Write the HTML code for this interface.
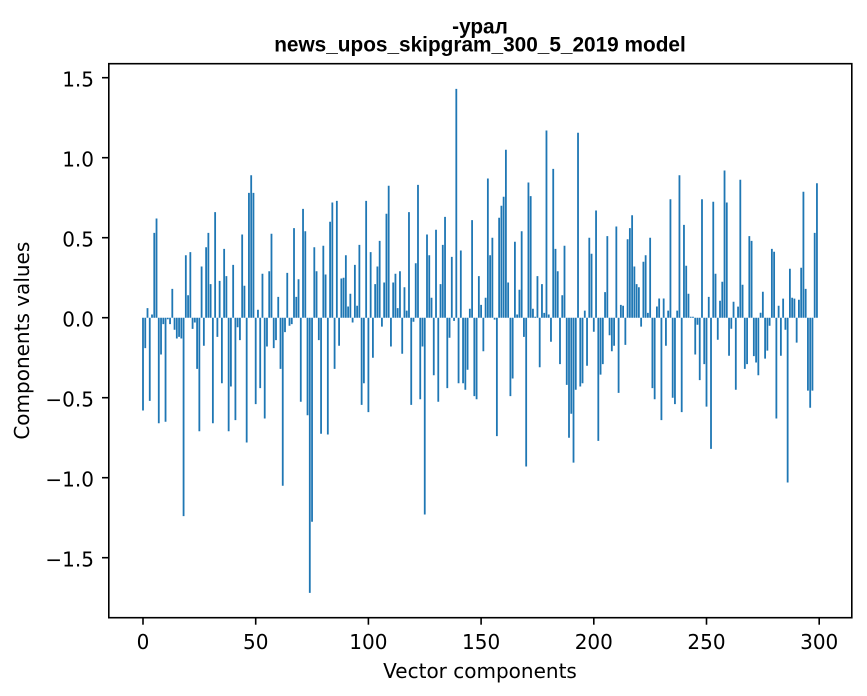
<!DOCTYPE html>
<html>
<head>
<meta charset="utf-8">
<style>
html,body{margin:0;padding:0;background:#fff;}
svg{display:block;}
.tk{font-family:"DejaVu Sans","Liberation Sans",sans-serif;font-size:20px;fill:#000;}
.tt{font-family:"Liberation Sans","DejaVu Sans",sans-serif;font-size:20.8px;font-weight:bold;fill:#000;}
</style>
</head>
<body>
<svg width="867" height="696" viewBox="0 0 867 696" xmlns="http://www.w3.org/2000/svg">
<rect x="0" y="0" width="867" height="696" fill="#fff"/>
<text class="tt" x="480" y="33.5" text-anchor="middle">-урал</text>
<text class="tt" x="480" y="51.5" text-anchor="middle">news_upos_skipgram_300_5_2019 model</text>
<g transform="translate(143,317.7) scale(2.254,-160)">
<path fill="#1f77b4" d="M-.4 0h.8v-.58h-.8z
M.6 0h.8v-.19h-.8z
M1.6 0h.8v.06h-.8z
M2.6 0h.8v-.52h-.8z
M3.6 0h.8v.02h-.8z
M4.6 0h.8v.53h-.8z
M5.6 0h.8v.62h-.8z
M6.6 0h.8v-.66h-.8z
M7.6 0h.8v-.23h-.8z
M8.6 0h.8v-.04h-.8z
M9.6 0h.8v-.65h-.8z
M10.6 0h.8v-.01h-.8z
M11.6 0h.8v-.04h-.8z
M12.6 0h.8v.18h-.8z
M13.6 0h.8v-.075h-.8z
M14.6 0h.8v-.13h-.8z
M15.6 0h.8v-.12h-.8z
M16.6 0h.8v-.13h-.8z
M17.6 0h.8v-1.24h-.8z
M18.6 0h.8v.39h-.8z
M19.6 0h.8v.14h-.8z
M20.6 0h.8v.41h-.8z
M21.6 0h.8v-.07h-.8z
M22.6 0h.8v-.03h-.8z
M23.6 0h.8v-.32h-.8z
M24.6 0h.8v-.71h-.8z
M25.6 0h.8v.32h-.8z
M26.6 0h.8v-.175h-.8z
M27.6 0h.8v.44h-.8z
M28.6 0h.8v.53h-.8z
M29.6 0h.8v.21h-.8z
M30.6 0h.8v-.66h-.8z
M31.6 0h.8v.66h-.8z
M32.6 0h.8v-.12h-.8z
M33.6 0h.8v.23h-.8z
M34.6 0h.8v-.41h-.8z
M35.6 0h.8v.43h-.8z
M36.6 0h.8v.26h-.8z
M37.6 0h.8v-.71h-.8z
M38.6 0h.8v-.43h-.8z
M39.6 0h.8v.33h-.8z
M40.6 0h.8v-.64h-.8z
M41.6 0h.8v-.06h-.8z
M42.6 0h.8v-.14h-.8z
M43.6 0h.8v.52h-.8z
M44.6 0h.8v.2h-.8z
M45.6 0h.8v-.78h-.8z
M46.6 0h.8v.78h-.8z
M47.6 0h.8v.89h-.8z
M48.6 0h.8v.78h-.8z
M49.6 0h.8v-.54h-.8z
M50.6 0h.8v.05h-.8z
M51.6 0h.8v-.44h-.8z
M52.6 0h.8v.275h-.8z
M53.6 0h.8v-.63h-.8z
M54.6 0h.8v-.18h-.8z
M55.6 0h.8v.29h-.8z
M56.6 0h.8v.525h-.8z
M57.6 0h.8v-.19h-.8z
M58.6 0h.8v-.14h-.8z
M59.6 0h.8v.13h-.8z
M60.6 0h.8v-.32h-.8z
M61.6 0h.8v-1.05h-.8z
M62.6 0h.8v-.09h-.8z
M63.6 0h.8v.28h-.8z
M64.6 0h.8v-.05h-.8z
M65.6 0h.8v-.04h-.8z
M66.6 0h.8v.56h-.8z
M67.6 0h.8v.13h-.8z
M68.6 0h.8v.24h-.8z
M69.6 0h.8v-.525h-.8z
M70.6 0h.8v.68h-.8z
M71.6 0h.8v.54h-.8z
M72.6 0h.8v-.61h-.8z
M73.6 0h.8v-1.72h-.8z
M74.6 0h.8v-1.275h-.8z
M75.6 0h.8v.44h-.8z
M76.6 0h.8v.29h-.8z
M77.6 0h.8v-.14h-.8z
M78.6 0h.8v-.725h-.8z
M79.6 0h.8v.45h-.8z
M80.6 0h.8v.27h-.8z
M81.6 0h.8v-.73h-.8z
M82.6 0h.8v.6h-.8z
M83.6 0h.8v.72h-.8z
M84.6 0h.8v-.32h-.8z
M85.6 0h.8v.73h-.8z
M86.6 0h.8v-.175h-.8z
M87.6 0h.8v.245h-.8z
M88.6 0h.8v.25h-.8z
M89.6 0h.8v.39h-.8z
M90.6 0h.8v.07h-.8z
M91.6 0h.8v.15h-.8z
M92.6 0h.8v-.03h-.8z
M93.6 0h.8v.33h-.8z
M94.6 0h.8v.075h-.8z
M95.6 0h.8v.455h-.8z
M96.6 0h.8v-.545h-.8z
M97.6 0h.8v-.41h-.8z
M98.6 0h.8v.73h-.8z
M99.6 0h.8v-.59h-.8z
M100.6 0h.8v.41h-.8z
M101.6 0h.8v-.25h-.8z
M102.6 0h.8v.21h-.8z
M103.6 0h.8v.32h-.8z
M104.6 0h.8v.48h-.8z
M105.6 0h.8v-.056h-.8z
M106.6 0h.8v.22h-.8z
M107.6 0h.8v.65h-.8z
M108.6 0h.8v.825h-.8z
M109.6 0h.8v-.18h-.8z
M110.6 0h.8v.22h-.8z
M111.6 0h.8v.275h-.8z
M112.6 0h.8v.06h-.8z
M113.6 0h.8v.29h-.8z
M114.6 0h.8v-.225h-.8z
M115.6 0h.8v.19h-.8z
M116.6 0h.8v.044h-.8z
M117.6 0h.8v.66h-.8z
M118.6 0h.8v-.545h-.8z
M119.6 0h.8v-.025h-.8z
M120.6 0h.8v.34h-.8z
M121.6 0h.8v.83h-.8z
M122.6 0h.8v-.51h-.8z
M123.6 0h.8v-.18h-.8z
M124.6 0h.8v-1.23h-.8z
M125.6 0h.8v.52h-.8z
M126.6 0h.8v.39h-.8z
M127.6 0h.8v.125h-.8z
M128.6 0h.8v-.36h-.8z
M129.6 0h.8v.55h-.8z
M130.6 0h.8v-.525h-.8z
M131.6 0h.8v.21h-.8z
M132.6 0h.8v.455h-.8z
M133.6 0h.8v.63h-.8z
M134.6 0h.8v-.44h-.8z
M135.6 0h.8v-.125h-.8z
M136.6 0h.8v.38h-.8z
M137.6 0h.8v-.02h-.8z
M138.6 0h.8v1.43h-.8z
M139.6 0h.8v-.41h-.8z
M140.6 0h.8v.42h-.8z
M141.6 0h.8v-.41h-.8z
M142.6 0h.8v-.45h-.8z
M143.6 0h.8v-.325h-.8z
M144.6 0h.8v.056h-.8z
M145.6 0h.8v.61h-.8z
M146.6 0h.8v-.49h-.8z
M147.6 0h.8v-.51h-.8z
M148.6 0h.8v.26h-.8z
M149.6 0h.8v.08h-.8z
M150.6 0h.8v-.21h-.8z
M151.6 0h.8v.125h-.8z
M152.6 0h.8v.87h-.8z
M153.6 0h.8v.39h-.8z
M154.6 0h.8v.5h-.8z
M155.6 0h.8v-.012h-.8z
M156.6 0h.8v-.74h-.8z
M157.6 0h.8v.625h-.8z
M158.6 0h.8v.7h-.8z
M159.6 0h.8v.756h-.8z
M160.6 0h.8v1.05h-.8z
M161.6 0h.8v.22h-.8z
M162.6 0h.8v-.49h-.8z
M163.6 0h.8v-.38h-.8z
M164.6 0h.8v.475h-.8z
M165.6 0h.8v.02h-.8z
M166.6 0h.8v.175h-.8z
M167.6 0h.8v.54h-.8z
M168.6 0h.8v-.12h-.8z
M169.6 0h.8v-.93h-.8z
M170.6 0h.8v.845h-.8z
M171.6 0h.8v.76h-.8z
M172.6 0h.8v.056h-.8z
M173.6 0h.8v.006h-.8z
M174.6 0h.8v.26h-.8z
M175.6 0h.8v-.31h-.8z
M176.6 0h.8v.21h-.8z
M177.6 0h.8v.03h-.8z
M178.6 0h.8v1.17h-.8z
M179.6 0h.8v.02h-.8z
M180.6 0h.8v-.15h-.8z
M181.6 0h.8v.93h-.8z
M182.6 0h.8v.43h-.8z
M183.6 0h.8v.29h-.8z
M184.6 0h.8v-.29h-.8z
M185.6 0h.8v.14h-.8z
M186.6 0h.8v.45h-.8z
M187.6 0h.8v-.42h-.8z
M188.6 0h.8v-.75h-.8z
M189.6 0h.8v-.6h-.8z
M190.6 0h.8v-.906h-.8z
M191.6 0h.8v-.45h-.8z
M192.6 0h.8v1.156h-.8z
M193.6 0h.8v-.43h-.8z
M194.6 0h.8v-.41h-.8z
M195.6 0h.8v.044h-.8z
M196.6 0h.8v-.3h-.8z
M197.6 0h.8v.5h-.8z
M198.6 0h.8v.4h-.8z
M199.6 0h.8v-.0875h-.8z
M200.6 0h.8v.67h-.8z
M201.6 0h.8v-.77h-.8z
M202.6 0h.8v-.356h-.8z
M203.6 0h.8v-.29h-.8z
M204.6 0h.8v.16h-.8z
M205.6 0h.8v.51h-.8z
M206.6 0h.8v-.11h-.8z
M207.6 0h.8v-.21h-.8z
M208.6 0h.8v-.175h-.8z
M209.6 0h.8v.57h-.8z
M210.6 0h.8v-.47h-.8z
M211.6 0h.8v.08h-.8z
M212.6 0h.8v.075h-.8z
M213.6 0h.8v-.17h-.8z
M214.6 0h.8v.49h-.8z
M215.6 0h.8v.56h-.8z
M216.6 0h.8v.64h-.8z
M217.6 0h.8v.32h-.8z
M218.6 0h.8v.21h-.8z
M219.6 0h.8v.19h-.8z
M220.6 0h.8v-.056h-.8z
M221.6 0h.8v.35h-.8z
M222.6 0h.8v.39h-.8z
M223.6 0h.8v.03h-.8z
M224.6 0h.8v.5h-.8z
M225.6 0h.8v-.44h-.8z
M226.6 0h.8v-.51h-.8z
M227.6 0h.8v.07h-.8z
M228.6 0h.8v.12h-.8z
M229.6 0h.8v-.64h-.8z
M230.6 0h.8v.12h-.8z
M231.6 0h.8v-.175h-.8z
M232.6 0h.8v.044h-.8z
M233.6 0h.8v.74h-.8z
M234.6 0h.8v-.5h-.8z
M235.6 0h.8v-.54h-.8z
M236.6 0h.8v.044h-.8z
M237.6 0h.8v.89h-.8z
M238.6 0h.8v-.59h-.8z
M239.6 0h.8v.58h-.8z
M240.6 0h.8v.325h-.8z
M241.6 0h.8v.15h-.8z
M242.6 0h.8v.006h-.8z
M243.6 0h.8v.006h-.8z
M244.6 0h.8v-.23h-.8z
M245.6 0h.8v-.044h-.8z
M246.6 0h.8v-.39h-.8z
M247.6 0h.8v.74h-.8z
M248.6 0h.8v-.29h-.8z
M249.6 0h.8v-.556h-.8z
M250.6 0h.8v.13h-.8z
M251.6 0h.8v-.82h-.8z
M252.6 0h.8v.725h-.8z
M253.6 0h.8v.275h-.8z
M254.6 0h.8v-.1375h-.8z
M255.6 0h.8v.106h-.8z
M256.6 0h.8v.225h-.8z
M257.6 0h.8v.92h-.8z
M258.6 0h.8v.72h-.8z
M259.6 0h.8v-.2375h-.8z
M260.6 0h.8v-.069h-.8z
M261.6 0h.8v.1h-.8z
M262.6 0h.8v-.45h-.8z
M263.6 0h.8v.069h-.8z
M264.6 0h.8v.8625h-.8z
M265.6 0h.8v.206h-.8z
M266.6 0h.8v-.32h-.8z
M267.6 0h.8v-.29h-.8z
M268.6 0h.8v.51h-.8z
M269.6 0h.8v.48h-.8z
M270.6 0h.8v-.24h-.8z
M271.6 0h.8v-.28h-.8z
M272.6 0h.8v-.36h-.8z
M273.6 0h.8v.031h-.8z
M274.6 0h.8v.1625h-.8z
M275.6 0h.8v-.256h-.8z
M276.6 0h.8v-.206h-.8z
M277.6 0h.8v-.05h-.8z
M278.6 0h.8v.43h-.8z
M279.6 0h.8v.4125h-.8z
M280.6 0h.8v-.63h-.8z
M281.6 0h.8v.075h-.8z
M282.6 0h.8v-.2375h-.8z
M283.6 0h.8v.119h-.8z
M284.6 0h.8v-.075h-.8z
M285.6 0h.8v-1.03h-.8z
M286.6 0h.8v.306h-.8z
M287.6 0h.8v.125h-.8z
M288.6 0h.8v.119h-.8z
M289.6 0h.8v-.156h-.8z
M290.6 0h.8v.1125h-.8z
M291.6 0h.8v.3125h-.8z
M292.6 0h.8v.7875h-.8z
M293.6 0h.8v.18h-.8z
M294.6 0h.8v-.456h-.8z
M295.6 0h.8v-.5625h-.8z
M296.6 0h.8v-.456h-.8z
M297.6 0h.8v.53h-.8z
M298.6 0h.8v.84h-.8z"/>
</g>
<!-- axes frame -->
<rect x="108.8" y="63.7" width="743" height="554" fill="none" stroke="#000" stroke-width="1.6"/>
<!-- y ticks -->
<g stroke="#000" stroke-width="1.6">
<line x1="102" y1="77.7" x2="108.8" y2="77.7"/>
<line x1="102" y1="157.7" x2="108.8" y2="157.7"/>
<line x1="102" y1="237.7" x2="108.8" y2="237.7"/>
<line x1="102" y1="317.7" x2="108.8" y2="317.7"/>
<line x1="102" y1="397.7" x2="108.8" y2="397.7"/>
<line x1="102" y1="477.7" x2="108.8" y2="477.7"/>
<line x1="102" y1="557.7" x2="108.8" y2="557.7"/>
<line x1="143" y1="617.7" x2="143" y2="624.7"/>
<line x1="255.7" y1="617.7" x2="255.7" y2="624.7"/>
<line x1="368.4" y1="617.7" x2="368.4" y2="624.7"/>
<line x1="481.1" y1="617.7" x2="481.1" y2="624.7"/>
<line x1="593.8" y1="617.7" x2="593.8" y2="624.7"/>
<line x1="706.5" y1="617.7" x2="706.5" y2="624.7"/>
<line x1="819.2" y1="617.7" x2="819.2" y2="624.7"/>
</g>
<g class="tk" text-anchor="end">
<text x="94" y="86.5">1.5</text>
<text x="94" y="166.5">1.0</text>
<text x="94" y="246.5">0.5</text>
<text x="94" y="326.5">0.0</text>
<text x="94" y="406.5">−0.5</text>
<text x="94" y="486.5">−1.0</text>
<text x="94" y="566.5">−1.5</text>
</g>
<g class="tk" text-anchor="middle">
<text x="143" y="649">0</text>
<text x="255.7" y="649">50</text>
<text x="368.4" y="649">100</text>
<text x="481.1" y="649">150</text>
<text x="593.8" y="649">200</text>
<text x="706.5" y="649">250</text>
<text x="819.2" y="649">300</text>
</g>
<text class="tk" x="480" y="678" text-anchor="middle">Vector components</text>
<text class="tk" transform="translate(29,340.7) rotate(-90)" text-anchor="middle">Components values</text>
</svg>
</body>
</html>
